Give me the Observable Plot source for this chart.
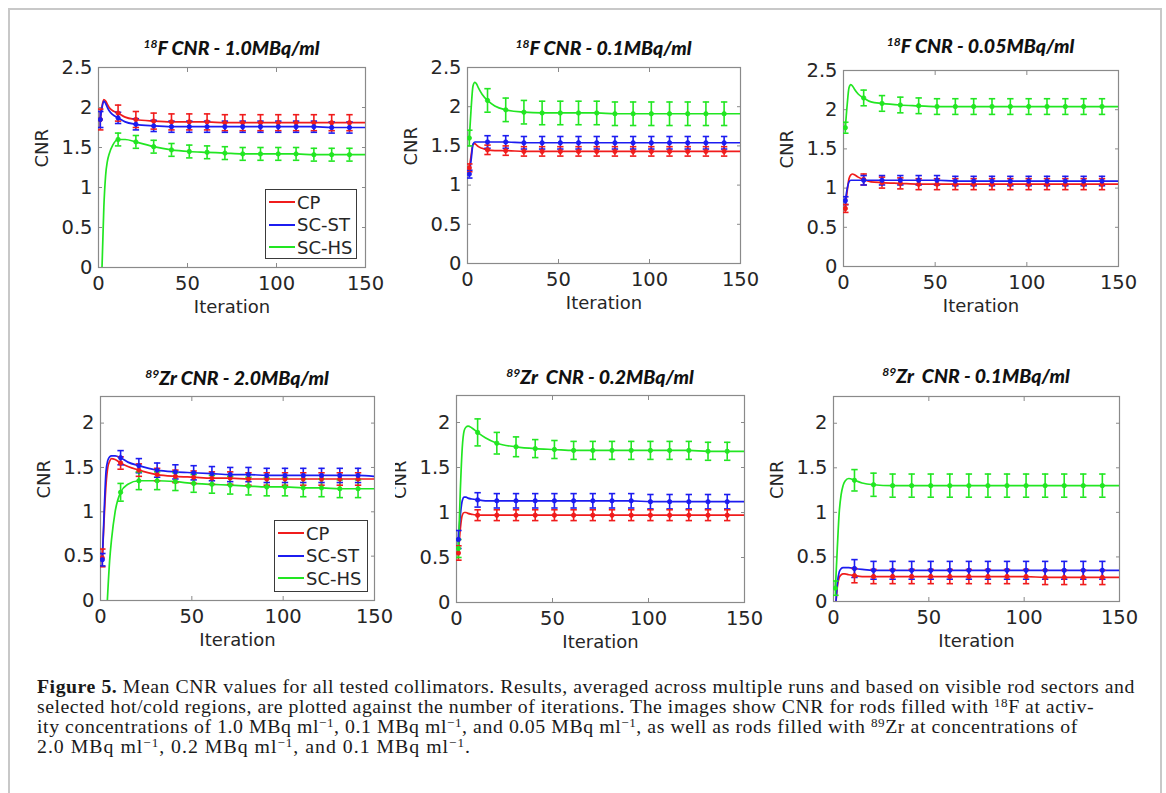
<!DOCTYPE html>
<html>
<head>
<meta charset="utf-8">
<script src="https://cdn.jsdelivr.net/npm/d3@7"></script>
<script src="https://cdn.jsdelivr.net/npm/@observablehq/plot@0.6"></script>
<style>
  body { margin: 0; background: #fff; width: 1166px; height: 793px; overflow: hidden; position: relative; font-family: "DejaVu Sans", sans-serif; }
  #border { position: absolute; left: 8px; top: 8px; width: 1154px; height: 820px; border: 2px solid #c8c8c8; box-sizing: border-box; }
  .panel { position: absolute; }
  .title { position: absolute; font: italic 900 19.5px Lato, "Open Sans", sans-serif; white-space: nowrap; transform: translate(-50%, -50%); color: #111; }
  .title sup { font-size: 0.62em; vertical-align: 0.55em; line-height: 0; font-weight: 700; }
  .legend { position: absolute; border: 1px solid #3a3a3a; background: #fff; box-sizing: border-box; }
  .legend .row { position: absolute; left: 0; height: 22px; display: flex; align-items: center; font: 18px "DejaVu Sans"; color: #262626; white-space: nowrap; }
  .legend .swatch { display: inline-block; width: 26px; height: 2px; margin: 0 2px 0 3px; }
  #caption { position: absolute; left: 37px; top: 676px; font-family: "Liberation Serif", serif; font-size: 19.8px; line-height: 20px; color: #1a1a1a; white-space: nowrap; }
  #caption .line { display: inline-block; height: 20px; }
  #caption sup { font-size: 0.66em; line-height: 0; vertical-align: 0.45em; }
</style>
</head>
<body>
<div id="border"></div>
<div id="figure"></div>
<div id="caption"></div>
<script>
// Iterations at which the curves are sampled, and where error bars sit
const iters = [1, 2, 3, 4, 5, 6, 8, 11, 15, 21, 31, 41, 51, 61, 71, 81, 91, 101, 111, 121, 131, 141, 150];
const barIters = [1, 11, 21, 31, 41, 51, 61, 71, 81, 91, 101, 111, 121, 131, 141];
const collimators = ["CP", "SC-ST", "SC-HS"];
const colors = ["#f01c1c", "#1c1cf0", "#22e622"];
const xTicks = [0, 50, 100, 150];
const yTicksF18 = [0, 0.5, 1, 1.5, 2, 2.5];
const yTicksZr = [0, 0.5, 1, 1.5, 2];

// 18F, 1.0 MBq/ml
const f18_1p0_CP = [1.85, 2.02, 2.10, 2.08, 2.04, 2.00, 1.96, 1.93, 1.88, 1.85, 1.83, 1.82, 1.82, 1.82, 1.81, 1.81, 1.81, 1.81, 1.81, 1.81, 1.81, 1.81, 1.81];
const f18_1p0_ST = [1.85, 2.00, 2.08, 2.05, 2.00, 1.96, 1.91, 1.87, 1.82, 1.79, 1.77, 1.76, 1.76, 1.76, 1.76, 1.76, 1.76, 1.76, 1.76, 1.76, 1.75, 1.75, 1.75];
const f18_1p0_HS = [-0.5, 0.02, 0.75, 1.15, 1.33, 1.42, 1.53, 1.60, 1.60, 1.57, 1.51, 1.47, 1.45, 1.44, 1.43, 1.42, 1.42, 1.42, 1.42, 1.41, 1.41, 1.41, 1.41];
const f18_1p0_errCP = [0.13, 0.10, 0.10, 0.10, 0.10, 0.10, 0.10, 0.10, 0.10, 0.10, 0.10, 0.10, 0.10, 0.10, 0.10];
const f18_1p0_errST = [0.10, 0.07, 0.07, 0.07, 0.07, 0.07, 0.07, 0.07, 0.07, 0.07, 0.07, 0.07, 0.07, 0.07, 0.07];
const f18_1p0_errHS = [0.08, 0.08, 0.08, 0.08, 0.08, 0.08, 0.08, 0.08, 0.08, 0.08, 0.08, 0.08, 0.08, 0.08, 0.08];

// 18F, 0.1 MBq/ml
const f18_0p1_CP = [1.22, 1.38, 1.52, 1.53, 1.51, 1.49, 1.47, 1.45, 1.44, 1.44, 1.43, 1.43, 1.43, 1.43, 1.43, 1.43, 1.43, 1.43, 1.43, 1.43, 1.43, 1.43, 1.43];
const f18_0p1_ST = [1.14, 1.32, 1.52, 1.55, 1.55, 1.55, 1.55, 1.55, 1.55, 1.55, 1.54, 1.54, 1.54, 1.54, 1.54, 1.54, 1.54, 1.54, 1.54, 1.54, 1.54, 1.54, 1.54];
const f18_0p1_HS = [1.60, 1.98, 2.26, 2.31, 2.29, 2.24, 2.16, 2.08, 2.01, 1.96, 1.93, 1.92, 1.92, 1.92, 1.92, 1.91, 1.91, 1.91, 1.91, 1.91, 1.91, 1.91, 1.91];
const f18_0p1_errCP = [0.05, 0.06, 0.06, 0.06, 0.06, 0.06, 0.06, 0.06, 0.06, 0.06, 0.06, 0.06, 0.06, 0.06, 0.06];
const f18_0p1_errST = [0.05, 0.08, 0.08, 0.08, 0.08, 0.08, 0.08, 0.08, 0.08, 0.08, 0.08, 0.08, 0.08, 0.08, 0.08];
const f18_0p1_errHS = [0.10, 0.15, 0.15, 0.15, 0.15, 0.15, 0.15, 0.15, 0.15, 0.15, 0.15, 0.15, 0.15, 0.15, 0.15];

// 18F, 0.05 MBq/ml
const f18_0p05_CP = [0.74, 0.96, 1.12, 1.17, 1.18, 1.17, 1.14, 1.11, 1.08, 1.07, 1.06, 1.05, 1.05, 1.05, 1.05, 1.05, 1.05, 1.05, 1.05, 1.05, 1.05, 1.05, 1.05];
const f18_0p05_ST = [0.84, 0.99, 1.08, 1.10, 1.10, 1.10, 1.10, 1.10, 1.10, 1.10, 1.10, 1.10, 1.10, 1.09, 1.09, 1.09, 1.09, 1.09, 1.09, 1.09, 1.09, 1.09, 1.09];
const f18_0p05_HS = [1.77, 2.06, 2.28, 2.32, 2.30, 2.26, 2.20, 2.15, 2.10, 2.08, 2.06, 2.05, 2.04, 2.04, 2.04, 2.04, 2.04, 2.04, 2.04, 2.04, 2.04, 2.04, 2.04];
const f18_0p05_errCP = [0.05, 0.07, 0.07, 0.07, 0.07, 0.07, 0.07, 0.07, 0.07, 0.07, 0.07, 0.07, 0.07, 0.07, 0.07];
const f18_0p05_errST = [0.05, 0.06, 0.06, 0.06, 0.06, 0.06, 0.06, 0.06, 0.06, 0.06, 0.06, 0.06, 0.06, 0.06, 0.06];
const f18_0p05_errHS = [0.07, 0.10, 0.10, 0.10, 0.10, 0.10, 0.10, 0.10, 0.10, 0.10, 0.10, 0.10, 0.10, 0.10, 0.10];

// 89Zr, 2.0 MBq/ml
const zr_2p0_CP = [0.48, 0.92, 1.30, 1.50, 1.57, 1.60, 1.59, 1.55, 1.51, 1.47, 1.42, 1.40, 1.39, 1.38, 1.38, 1.37, 1.37, 1.37, 1.37, 1.37, 1.37, 1.37, 1.37];
const zr_2p0_ST = [0.46, 1.00, 1.45, 1.58, 1.62, 1.63, 1.63, 1.61, 1.56, 1.52, 1.47, 1.45, 1.44, 1.43, 1.42, 1.42, 1.41, 1.41, 1.41, 1.41, 1.41, 1.41, 1.40];
const zr_2p0_HS = [-1.5, -0.8, -0.3, 0.1, 0.45, 0.68, 1.0, 1.22, 1.31, 1.35, 1.35, 1.34, 1.32, 1.31, 1.30, 1.29, 1.28, 1.28, 1.27, 1.27, 1.26, 1.26, 1.26];
const zr_2p0_errCP = [0.10, 0.07, 0.07, 0.07, 0.07, 0.07, 0.07, 0.07, 0.07, 0.07, 0.07, 0.07, 0.07, 0.07, 0.07];
const zr_2p0_errST = [0.07, 0.08, 0.08, 0.08, 0.08, 0.08, 0.08, 0.08, 0.08, 0.08, 0.08, 0.08, 0.08, 0.08, 0.08];
const zr_2p0_errHS = [0.10, 0.10, 0.10, 0.10, 0.10, 0.10, 0.10, 0.10, 0.10, 0.10, 0.10, 0.10, 0.10, 0.10, 0.10];

// 89Zr, 0.2 MBq/ml
const zr_0p2_CP = [0.55, 0.82, 0.97, 1.00, 1.00, 0.99, 0.98, 0.97, 0.97, 0.97, 0.97, 0.97, 0.97, 0.97, 0.97, 0.97, 0.97, 0.97, 0.97, 0.97, 0.97, 0.97, 0.97];
const zr_0p2_ST = [0.70, 0.97, 1.13, 1.17, 1.17, 1.16, 1.15, 1.14, 1.13, 1.13, 1.13, 1.13, 1.13, 1.13, 1.13, 1.13, 1.13, 1.12, 1.12, 1.12, 1.12, 1.12, 1.12];
const zr_0p2_HS = [0.60, 1.25, 1.72, 1.91, 1.95, 1.96, 1.94, 1.89, 1.83, 1.77, 1.73, 1.71, 1.70, 1.69, 1.69, 1.69, 1.69, 1.69, 1.69, 1.69, 1.68, 1.68, 1.68];
const zr_0p2_errCP = [0.08, 0.06, 0.06, 0.06, 0.06, 0.06, 0.06, 0.06, 0.06, 0.06, 0.06, 0.06, 0.06, 0.06, 0.06];
const zr_0p2_errST = [0.10, 0.08, 0.08, 0.08, 0.08, 0.08, 0.08, 0.08, 0.08, 0.08, 0.08, 0.08, 0.08, 0.08, 0.08];
const zr_0p2_errHS = [0.10, 0.15, 0.12, 0.11, 0.10, 0.10, 0.10, 0.10, 0.10, 0.10, 0.10, 0.10, 0.10, 0.10, 0.10];

// 89Zr, 0.1 MBq/ml
const zr_0p1_CP = [-0.10, 0.16, 0.27, 0.30, 0.31, 0.31, 0.30, 0.29, 0.28, 0.28, 0.28, 0.28, 0.28, 0.28, 0.28, 0.28, 0.28, 0.28, 0.27, 0.27, 0.27, 0.27, 0.27];
const zr_0p1_ST = [-0.10, 0.20, 0.33, 0.37, 0.38, 0.38, 0.38, 0.37, 0.36, 0.35, 0.35, 0.35, 0.35, 0.35, 0.35, 0.35, 0.35, 0.35, 0.35, 0.35, 0.35, 0.35, 0.35];
const zr_0p1_HS = [0.15, 0.60, 1.00, 1.20, 1.30, 1.35, 1.38, 1.36, 1.33, 1.31, 1.30, 1.30, 1.30, 1.30, 1.30, 1.30, 1.30, 1.30, 1.30, 1.30, 1.30, 1.30, 1.30];
const zr_0p1_errCP = [0.08, 0.08, 0.08, 0.08, 0.08, 0.08, 0.08, 0.08, 0.08, 0.08, 0.08, 0.08, 0.08, 0.08, 0.08];
const zr_0p1_errST = [0.08, 0.10, 0.10, 0.10, 0.10, 0.10, 0.10, 0.10, 0.10, 0.10, 0.10, 0.10, 0.10, 0.10, 0.10];
const zr_0p1_errHS = [0.08, 0.12, 0.13, 0.13, 0.13, 0.13, 0.13, 0.13, 0.13, 0.13, 0.13, 0.13, 0.13, 0.13, 0.13];

// Panel layout: frame box in page pixels [left, right, top, bottom]
const panels = [
  {title: "<sup>18</sup>F CNR - 1.0MBq/ml", frame: [98, 365, 67, 267], yMax: 2.5, yTicks: yTicksF18, titleY: 47,
   values: [f18_1p0_CP, f18_1p0_ST, f18_1p0_HS], errs: [f18_1p0_errCP, f18_1p0_errST, f18_1p0_errHS],
   legend: [265, 189, 92, 70]},
  {title: "<sup>18</sup>F CNR - 0.1MBq/ml", frame: [467, 740, 67, 263], yMax: 2.5, yTicks: yTicksF18, titleY: 47,
   values: [f18_0p1_CP, f18_0p1_ST, f18_0p1_HS], errs: [f18_0p1_errCP, f18_0p1_errST, f18_0p1_errHS]},
  {title: "<sup>18</sup>F CNR - 0.05MBq/ml", frame: [843, 1118, 70, 266], yMax: 2.5, yTicks: yTicksF18, titleY: 45,
   values: [f18_0p05_CP, f18_0p05_ST, f18_0p05_HS], errs: [f18_0p05_errCP, f18_0p05_errST, f18_0p05_errHS]},
  {title: "<sup>89</sup>Zr CNR - 2.0MBq/ml", frame: [100, 374, 396, 600], yMax: 2.3, yTicks: yTicksZr, titleY: 377,
   values: [zr_2p0_CP, zr_2p0_ST, zr_2p0_HS], errs: [zr_2p0_errCP, zr_2p0_errST, zr_2p0_errHS],
   legend: [274, 520, 94, 72], opaque: true},
  {title: "<sup>89</sup>Zr&nbsp; CNR - 0.2MBq/ml", frame: [456, 744, 395, 602], yMax: 2.3, yTicks: yTicksZr, titleY: 376,
   values: [zr_0p2_CP, zr_0p2_ST, zr_0p2_HS], errs: [zr_0p2_errCP, zr_0p2_errST, zr_0p2_errHS]},
  {title: "<sup>89</sup>Zr&nbsp; CNR - 0.1MBq/ml", frame: [833, 1119, 396, 601], yMax: 2.3, yTicks: yTicksZr, titleY: 375,
   values: [zr_0p1_CP, zr_0p1_ST, zr_0p1_HS], errs: [zr_0p1_errCP, zr_0p1_errST, zr_0p1_errHS]}
];

// Horizontal cap for error bars, half-width equal to the dot radius
const capSymbol = {
  draw(context, size) {
    const w = Math.sqrt(size / Math.PI);
    context.moveTo(-w, 0);
    context.lineTo(w, 0);
  }
};

const fig = document.getElementById("figure");
const ink = "#262626";
const boxGray = "#8a8a8a";
const noLabel = () => "";

panels.forEach((p) => {
  const [fx0, fx1, fy0, fy1] = p.frame;
  const mL = 70, mR = p.opaque ? 395 - fx1 : 24, mT = 8, mB = 62;
  const width = fx1 - fx0 + mL + mR;
  const height = fy1 - fy0 + mT + mB;

  const rows = [];
  collimators.forEach((c, s) => p.values[s].forEach((v, i) => rows.push({series: c, iter: iters[i], value: v})));
  const bars = [];
  collimators.forEach((c, s) => barIters.forEach((it, i) => {
    const v = p.values[s][iters.indexOf(it)];
    const e = p.errs[s][i];
    bars.push({series: c, iter: it, value: v, lo: v - e, hi: v + e});
  }));

  const chart = Plot.plot({
    width, height,
    marginLeft: mL, marginRight: mR, marginTop: mT, marginBottom: mB,
    style: {fontFamily: "DejaVu Sans", fontSize: "19.5px", color: ink, background: p.opaque ? "white" : "transparent", overflow: "visible"},
    x: {domain: [0, 150]},
    y: {domain: [0, p.yMax]},
    color: {domain: collimators, range: colors},
    marks: [
      Plot.frame({stroke: boxGray, strokeWidth: 1.2}),
      Plot.axisX({anchor: "bottom", ticks: xTicks, tickSize: -4, tickPadding: 13, stroke: boxGray, fill: ink, label: null, tickFormat: d => String(d)}),
      Plot.axisX({anchor: "top", ticks: xTicks, tickSize: -4, stroke: boxGray, tickFormat: noLabel, label: null}),
      Plot.axisY({anchor: "left", ticks: p.yTicks, tickSize: -4, tickPadding: 10, stroke: boxGray, fill: ink, label: null, tickFormat: d => String(d)}),
      Plot.axisY({anchor: "right", ticks: p.yTicks, tickSize: -4, stroke: boxGray, tickFormat: noLabel, label: null}),
      Plot.line(rows, {x: "iter", y: "value", z: "series", stroke: "series", strokeWidth: 1.7, curve: "monotone-x", clip: true}),
      Plot.ruleX(bars, {x: "iter", y1: "lo", y2: "hi", stroke: "series", strokeWidth: 1.6, clip: true}),
      Plot.dot(bars, {x: "iter", y: "lo", symbol: capSymbol, r: 3.2, stroke: "series", strokeWidth: 1.6, clip: true}),
      Plot.dot(bars, {x: "iter", y: "hi", symbol: capSymbol, r: 3.2, stroke: "series", strokeWidth: 1.6, clip: true}),
      Plot.dot(bars, {x: "iter", y: "value", r: 2.2, fill: "series", stroke: "series", strokeWidth: 0.8, clip: true}),
      Plot.text(["CNR"], {frameAnchor: "left", rotate: -90, dx: -56, fontSize: 18, fill: ink}),
      Plot.text(["Iteration"], {frameAnchor: "bottom", dy: 45, fontSize: 18, fill: ink})
    ]
  });

  const wrap = document.createElement("div");
  wrap.className = "panel";
  wrap.style.left = (fx0 - mL) + "px";
  wrap.style.top = (fy0 - mT) + "px";
  wrap.style.zIndex = p.opaque ? 2 : 1;
  wrap.appendChild(chart);
  fig.appendChild(wrap);

  const t = document.createElement("div");
  t.className = "title";
  t.innerHTML = p.title;
  t.style.left = ((fx0 + fx1) / 2) + "px";
  t.style.top = p.titleY + "px";
  t.style.zIndex = 3;
  fig.appendChild(t);

  if (p.legend) {
    const [lx, ly, lw, lh] = p.legend;
    const lg = document.createElement("div");
    lg.className = "legend";
    Object.assign(lg.style, {left: lx + "px", top: ly + "px", width: lw + "px", height: lh + "px", zIndex: 4});
    collimators.forEach((c, s) => {
      const row = document.createElement("div");
      row.className = "row";
      row.style.top = (1 + s * 22.5) + "px";
      const sw = document.createElement("span");
      sw.className = "swatch";
      sw.style.background = colors[s];
      row.appendChild(sw);
      row.appendChild(document.createTextNode(c));
      lg.appendChild(row);
    });
    fig.appendChild(lg);
  }
});

// Caption beneath the panels; each line is spread to its measure
const captionLines = [
  "<b>Figure 5.</b> Mean CNR values for all tested collimators. Results, averaged across multiple runs and based on visible rod sectors and",
  "selected hot/cold regions, are plotted against the number of iterations. The images show CNR for rods filled with <sup>18</sup>F at activ-",
  "ity concentrations of 1.0 MBq ml<sup>\u22121</sup>, 0.1 MBq ml<sup>\u22121</sup>, and 0.05 MBq ml<sup>\u22121</sup>, as well as rods filled with <sup>89</sup>Zr at concentrations of",
  "2.0 MBq ml<sup>\u22121</sup>, 0.2 MBq ml<sup>\u22121</sup>, and 0.1 MBq ml<sup>\u22121</sup>."
];
const captionWidths = [1098, 1057, 1041, 434];
const cap = document.getElementById("caption");
captionLines.forEach((l, i) => {
  const d = document.createElement("div");
  const s = document.createElement("span");
  s.className = "line";
  s.innerHTML = l;
  d.appendChild(s);
  cap.appendChild(d);
  const w = s.getBoundingClientRect().width;
  const n = s.textContent.length;
  s.style.letterSpacing = ((captionWidths[i] - w) / n) + "px";
});
</script>
</body>
</html>
